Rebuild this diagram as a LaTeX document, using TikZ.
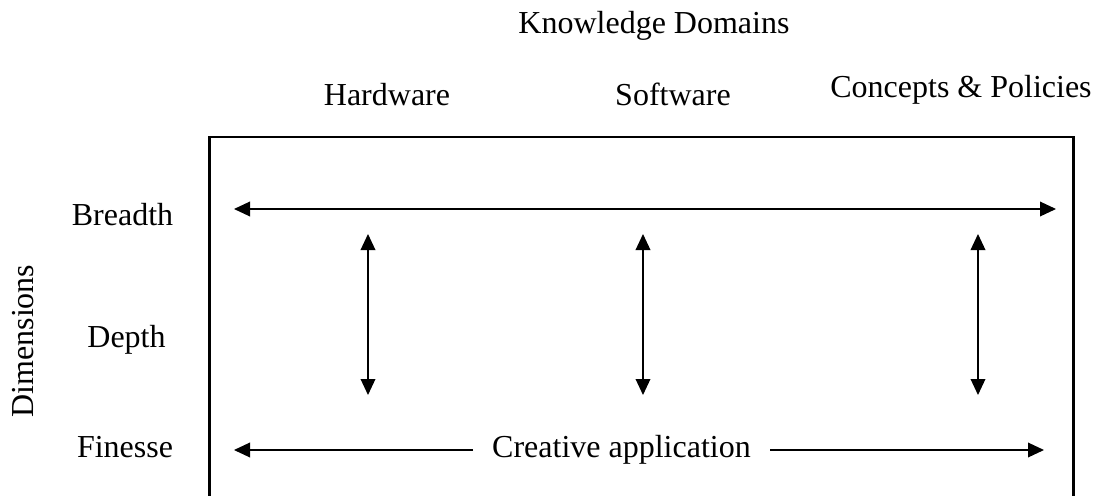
\documentclass[tikz,border=0pt]{standalone}
\usepackage{fontspec}
\setmainfont{Liberation Serif}
\usetikzlibrary{arrows.meta}
\begin{document}
\begin{tikzpicture}[x=0.75pt,y=-0.75pt,
  lbl/.style={font=\fontsize{24}{28}\selectfont, inner sep=0pt, anchor=base},
  frame/.style={line width=1.6pt},
  dbl/.style={line width=1pt, {Triangle[length=12pt,width=11pt]}-{Triangle[length=12pt,width=11pt]}},
  sgl/.style={line width=1pt, -{Triangle[length=12pt,width=11pt]}}]
\useasboundingbox (0,0) rectangle (1104,496);
\draw[frame] (209.5,520) -- (209.5,137) -- (1073.5,137) -- (1073.5,520);
% labels
\node[lbl] (kd) at (654,33) {Knowledge Domains};
\node[lbl] (hw) at (387,105) {Hardware};
\node[lbl] (sw) at (673,105) {Software};
\node[lbl] (cp) at (961,97) {Concepts \& Policies};
\node[lbl] (br) at (122.5,225) {Breadth};
\node[lbl] (de) at (126.5,347) {Depth};
\node[lbl] (fi) at (125,457) {Finesse};
\node[lbl, anchor=center, rotate=90] (di) at (23,341) {Dimensions};
\node[lbl] (ca) at (621.5,457) {Creative application};
% arrow end points
\coordinate (bL) at (234,209);
\coordinate (bR) at (1056,209);
\coordinate (h1) at (368,234);
\coordinate (h2) at (368,395);
\coordinate (s1) at (643,234);
\coordinate (s2) at (643,395);
\coordinate (c1) at (978,234);
\coordinate (c2) at (978,395);
\coordinate (fL) at (234,450);
\coordinate (fLs) at (473,450);
\coordinate (fRs) at (770,450);
\coordinate (fR) at (1044,450);
\draw[dbl] (bL) -- (bR);
\draw[dbl] (h1) -- (h2);
\draw[dbl] (s1) -- (s2);
\draw[dbl] (c1) -- (c2);
\draw[sgl] (fLs) -- (fL);
\draw[sgl] (fRs) -- (fR);
\end{tikzpicture}
\end{document}
